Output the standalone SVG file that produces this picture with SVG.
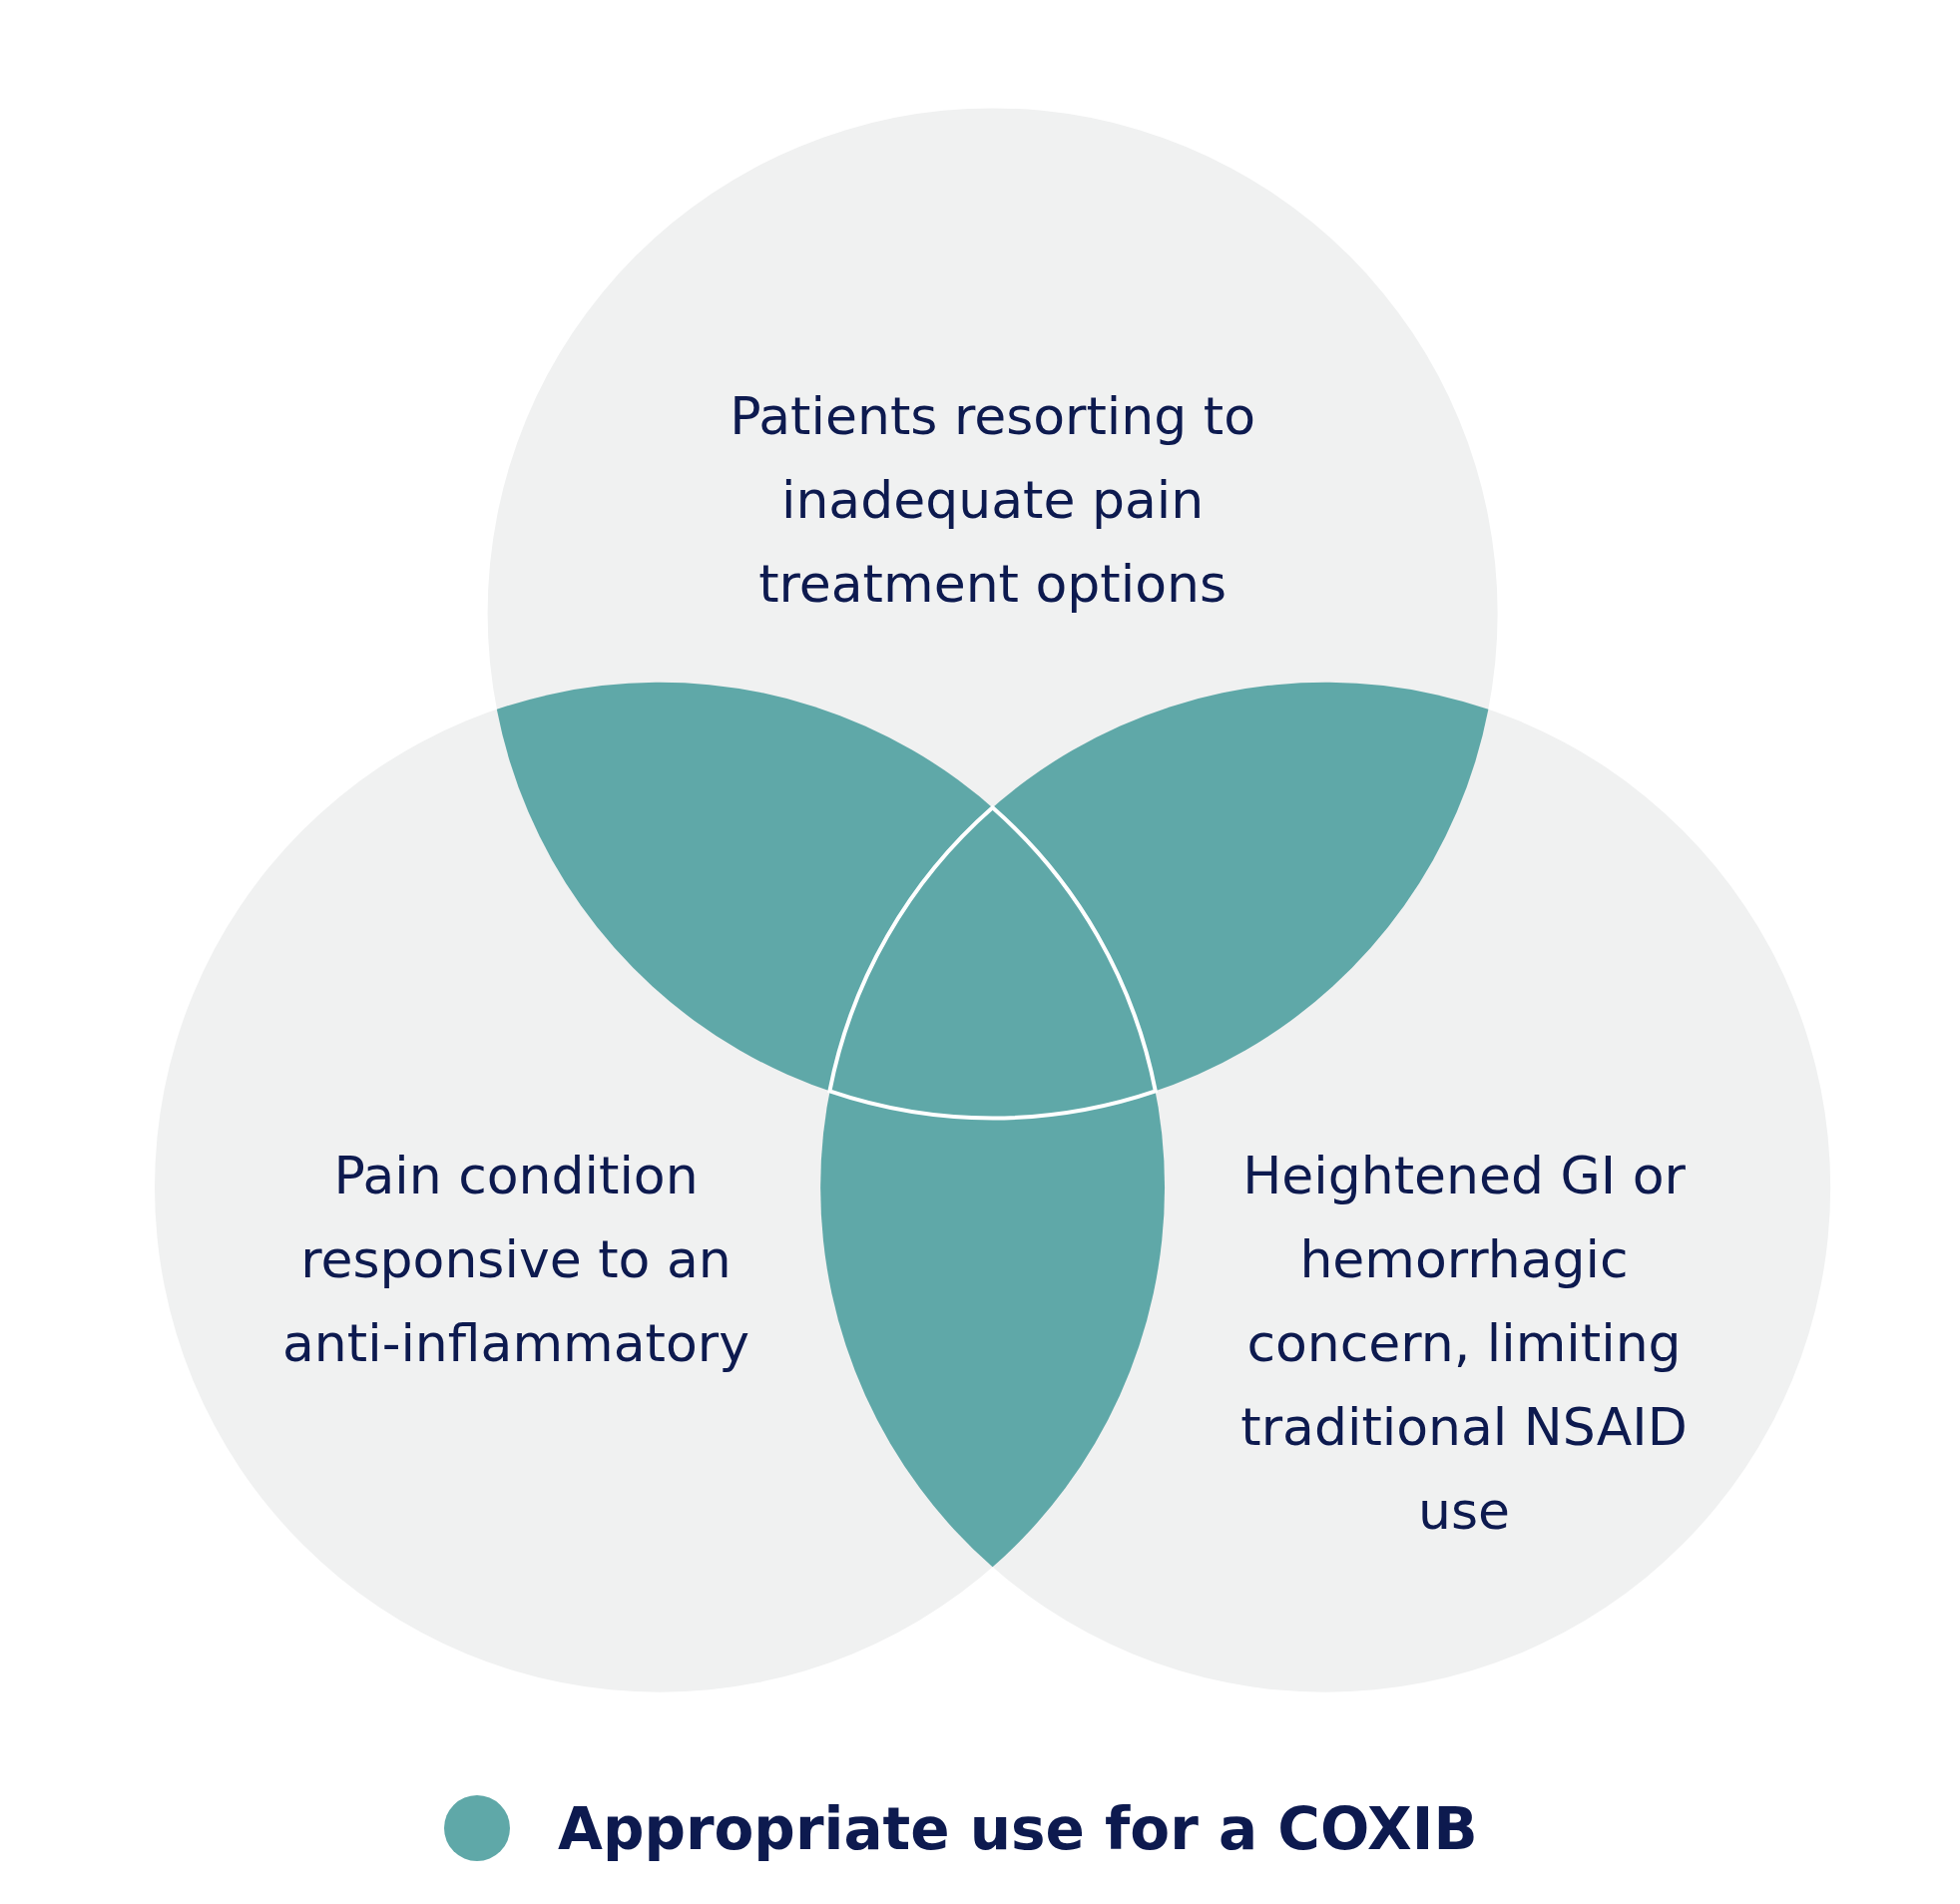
<svg xmlns="http://www.w3.org/2000/svg" width="1964" height="1908" viewBox="0 0 1964 1908">
<style>
.c{fill:#f0f1f1}
.t{fill:#5fa8a8}
.tx{font-family:"DejaVu Sans",sans-serif;font-size:52px;fill:#0d1a4f;text-anchor:middle}
</style>
<rect width="1964" height="1908" fill="#fff"/>
<g id="circles">
<circle id="top" class="c" cx="994.6" cy="614.4" r="506"/>
<circle id="left" class="c" cx="661" cy="1189.8" r="506"/>
<circle id="right" class="c" cx="1328.2" cy="1189.8" r="506"/>
</g>
<g id="overlaps">
<path class="t" d="M497.8 710.8 A506 506 0 0 0 1157.8 1093.4 A506 506 0 0 0 497.8 710.8 Z"/>
<path class="t" d="M831.4 1093.4 A506 506 0 0 1 1491.4 710.8 A506 506 0 0 1 831.4 1093.4 Z"/>
<path class="t" d="M994.6 809.3 A506 506 0 0 1 994.6 1570.3 A506 506 0 0 1 994.6 809.3 Z"/>
<path id="center" class="t" d="M994.6 809.3 A506 506 0 0 1 1157.8 1093.4 A506 506 0 0 1 831.4 1093.4 A506 506 0 0 1 994.6 809.3 Z" stroke="#fff" stroke-width="4"/>
</g>
<g id="labels">
<text class="tx"><tspan x="994.6" y="435">Patients resorting to</tspan><tspan x="994.6" y="519">inadequate pain</tspan><tspan x="994.6" y="603">treatment options</tspan></text>
<text class="tx"><tspan x="517" y="1196">Pain condition</tspan><tspan x="517" y="1280">responsive to an</tspan><tspan x="517" y="1364">anti-inflammatory</tspan></text>
<text class="tx"><tspan x="1467" y="1196">Heightened GI or</tspan><tspan x="1467" y="1280">hemorrhagic</tspan><tspan x="1467" y="1364">concern, limiting</tspan><tspan x="1467" y="1448">traditional NSAID</tspan><tspan x="1467" y="1532">use</tspan></text>
</g>
<g id="legend">
<circle class="t" cx="478" cy="1832" r="33"/>
<text x="559" y="1853" font-family="DejaVu Sans,sans-serif" font-weight="bold" font-size="58" fill="#0d1a4f">Appropriate use for a COXIB</text>
</g>
</svg>
